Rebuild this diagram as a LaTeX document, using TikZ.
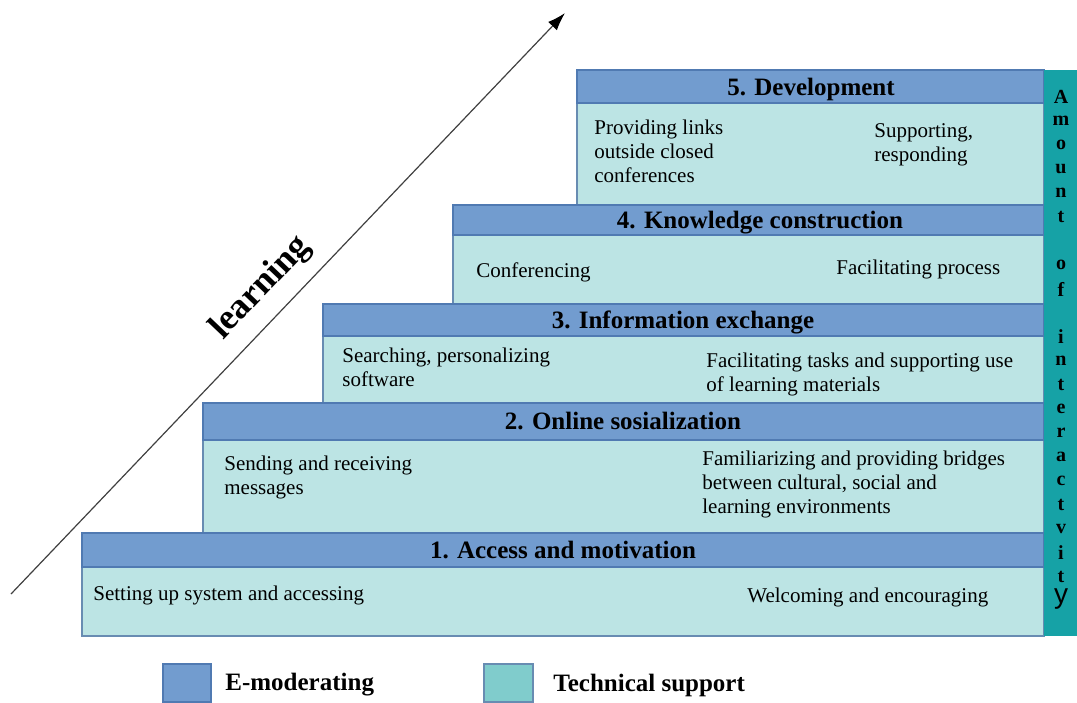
\documentclass[tikz,border=0pt]{standalone}
\usepackage{fontspec}
\setmainfont{Liberation Serif}
\newfontfamily\sansy{Liberation Sans}
\usetikzlibrary{arrows.meta}

\definecolor{moderblue}{RGB}{114,156,207}
\definecolor{moderedge}{RGB}{80,122,178}
\definecolor{techteal}{RGB}{188,228,228}
\definecolor{techedge}{RGB}{104,140,178}
\definecolor{barteal}{RGB}{22,162,166}
\definecolor{keyteal}{RGB}{128,204,204}

\begin{document}
\begin{tikzpicture}[x=0.5pt,y=-0.5pt,
  hdr/.style={fill=moderblue,draw=moderedge,line width=0.6pt},
  bodybox/.style={fill=techteal,draw=techedge,line width=0.6pt},
  hdrtext/.style={anchor=base,inner sep=0pt,font=\fontsize{12.5}{14}\selectfont\bfseries},
  note/.style={anchor=north west,align=left,inner sep=0pt,font=\fontsize{10.5}{12}\selectfont},
  vletter/.style={inner sep=0pt,font=\fontsize{10}{12}\selectfont\bfseries},
  keytext/.style={anchor=west,inner sep=0pt,font=\fontsize{12.5}{14}\selectfont\bfseries}]

  \useasboundingbox (0,0) rectangle (1077,702);

  % the five steps, top one first so lower headers sit over the edges
  \draw[bodybox] (577,103) rectangle (1044,205);
  \draw[hdr] (577,70) rectangle (1044,103);
  \draw[bodybox] (453,235) rectangle (1044,304);
  \draw[hdr] (453,205) rectangle (1044,235);
  \draw[bodybox] (323,336) rectangle (1044,403);
  \draw[hdr] (323,304) rectangle (1044,336);
  \draw[bodybox] (203,440) rectangle (1044,533);
  \draw[hdr] (203,403) rectangle (1044,440);
  \draw[bodybox] (82,567) rectangle (1044,636);
  \draw[hdr] (82,533) rectangle (1044,567);

  % step titles
  \node[hdrtext] (s5) at (811,95) {5. Development};
  \node[hdrtext] (s4) at (760,228) {4. Knowledge construction};
  \node[hdrtext] (s3) at (683,328) {3. Information exchange};
  \node[hdrtext] (s2) at (623,429) {2. Online sosialization};
  \node[hdrtext] (s1) at (563,558) {1. Access and motivation};

  % what happens on each step
  \node[note] (t5) at (594,120) {Providing links\\outside closed\\conferences};
  \node[note] (m5) at (874,123) {Supporting,\\responding};
  \node[note] (t4) at (476,262) {Conferencing};
  \node[note] (m4) at (836,260) {Facilitating process};
  \node[note] (t3) at (342,348) {Searching, personalizing\\software};
  \node[note] (m3) at (706,353) {Facilitating tasks and supporting use\\of learning materials};
  \node[note] (t2) at (224,456) {Sending and receiving\\messages};
  \node[note] (m2) at (702,451) {Familiarizing and providing bridges\\between cultural, social and\\learning environments};
  \node[note] (t1) at (93,586) {Setting up system and accessing};
  \node[note] (m1) at (747,588) {Welcoming and encouraging};

  % side bar with the letters stacked
  \fill[barteal] (1044,70) rectangle (1077,636);
  \foreach \ch [count=\k from 0] in {A,m,o,u,n,t,{},o,f,{},i,n,t,e,r,a,c,t,v,i,t}
    \node[vletter] (v\k) at (1061,{97+24*\k}) {\ch};
  \node[inner sep=0pt,font=\fontsize{14}{16}\selectfont\sansy] (vy) at (1061,599) {y};

  % learning arrow
  \coordinate (lstart) at (11,594);
  \coordinate (lend) at (565,13);
  \draw[black!75,line width=0.6pt,-{Latex[length=9pt,width=6pt,black]}] (lstart) -- (lend);
  \node[rotate=46.4,font=\fontsize{18}{20}\selectfont\bfseries] (lrn) at (261,288) {learning};

  % legend
  \draw[fill=moderblue,draw=moderedge,line width=0.6pt] (163,664) rectangle (211,702);
  \node[keytext] (k1) at (225,685) {E-moderating};
  \draw[fill=keyteal,draw=techedge,line width=0.6pt] (484,664) rectangle (533,702);
  \node[keytext] (k2) at (553,685) {Technical support};

\end{tikzpicture}
\end{document}
